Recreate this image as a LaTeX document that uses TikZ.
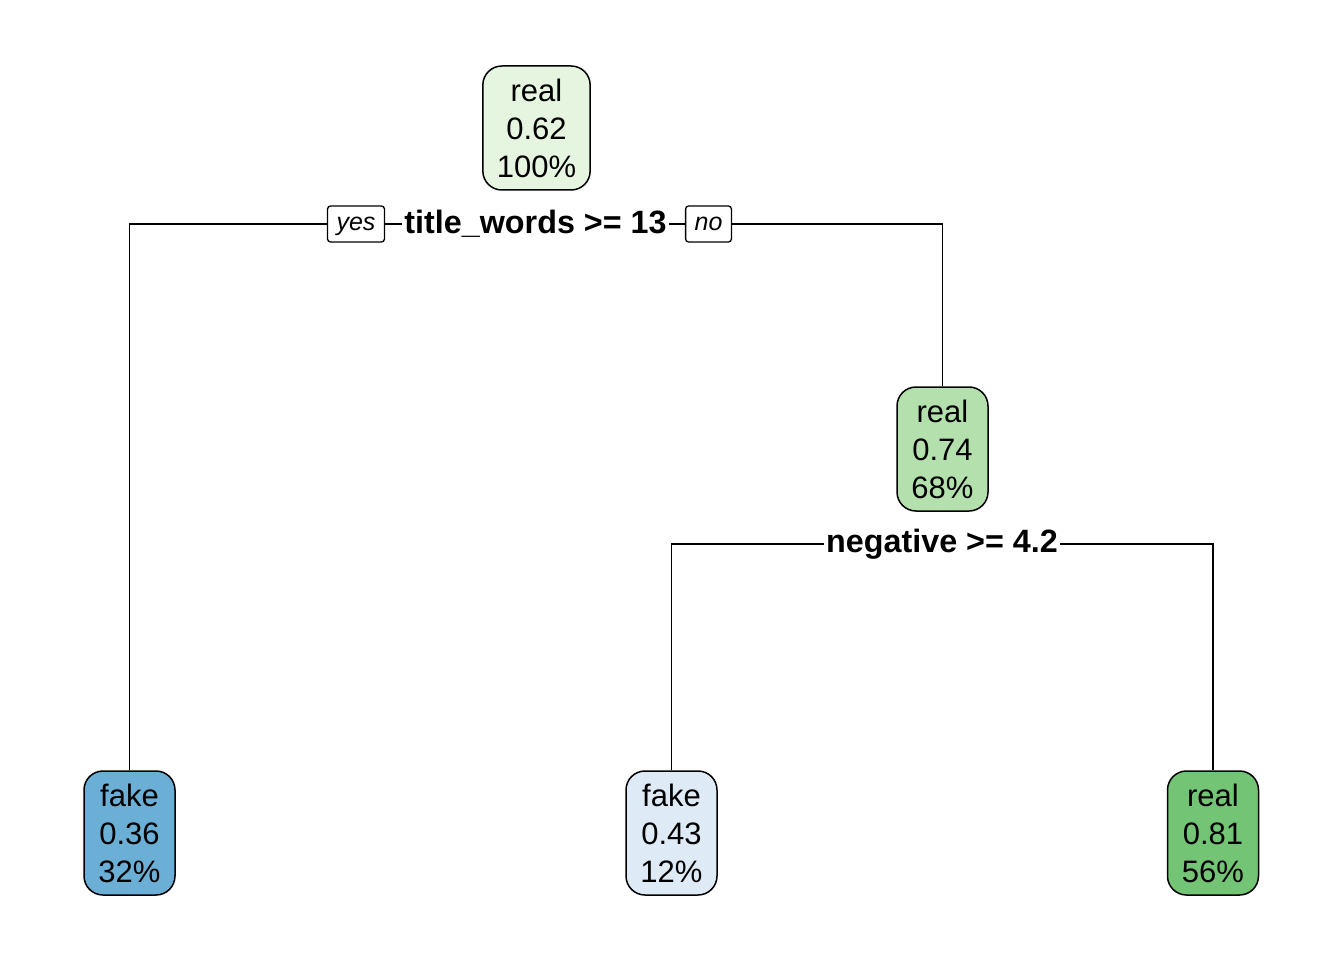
\documentclass[tikz,border=0pt]{standalone}
\usepackage{fontspec}
\setmainfont{Liberation Sans}
\definecolor{cRoot}{HTML}{E5F5E0}
\definecolor{cMid}{HTML}{B4E0AE}
\definecolor{cRealLeaf}{HTML}{74C476}
\definecolor{cFakeDark}{HTML}{6BAED6}
\definecolor{cFakeLight}{HTML}{DEEBF7}
\tikzset{
  treenode/.style={draw=black, line width=1.5pt, rounded corners=19pt, align=center,
    font=\fontsize{31}{38}\selectfont, inner xsep=14pt, inner ysep=0pt,
    minimum height=124pt, minimum width=91pt},
  splitlabel/.style={fill=white, inner xsep=2pt, inner ysep=1pt,
    font=\bfseries\fontsize{32.3}{36}\selectfont},
  yesno/.style={draw=black, fill=white, line width=1.3pt, rounded corners=3pt,
    font=\itshape\fontsize{25}{28}\selectfont, inner xsep=9pt, inner ysep=0pt,
    text height=17pt, text depth=3pt, minimum height=36pt},
  edge/.style={line width=1.5pt}
}
\begin{document}
\begin{tikzpicture}[x=1pt,y=-1pt]
\useasboundingbox (0,0) rectangle (1344,960);
\node[treenode, fill=cRoot] (root) at (536.5,128) {real\\0.62\\100\%};
\node[treenode, fill=cMid] (n2) at (942.5,449) {real\\0.74\\68\%};
\node[treenode, fill=cFakeDark] (l1) at (129.5,833) {fake\\0.36\\32\%};
\node[treenode, fill=cFakeLight] (l2) at (671.5,833) {fake\\0.43\\12\%};
\node[treenode, fill=cRealLeaf] (l3) at (1213,833) {real\\0.81\\56\%};
\coordinate (s1) at (536,224);
\coordinate (s2) at (942,544);
\draw[edge] (l1.north) |- (s1) -| (n2.north);
\draw[edge] (l2.north) |- (s2) -| (l3.north);
\node[splitlabel] (lab1) at (535.5,224) {title\_words >= 13};
\node[splitlabel] (lab2) at (942,544) {negative >= 4.2};
\node[yesno] (yes) at (356,224) {yes};
\node[yesno] (no) at (708.5,224) {no};
\end{tikzpicture}
\end{document}
